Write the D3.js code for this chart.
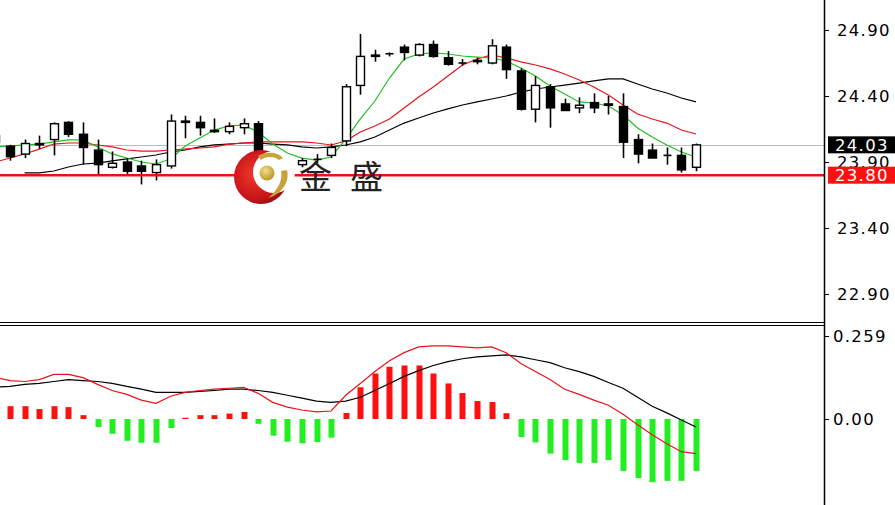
<!DOCTYPE html>
<html><head><meta charset="utf-8">
<script src="https://cdn.jsdelivr.net/npm/d3@7"></script>
<style>
html,body{margin:0;padding:0;background:#fff;}
svg{display:block;}
</style></head>
<body>
<svg id="chart" width="895" height="505"></svg>
<script>
// ---- data; first entry is the bar cut off at the left edge ----
const openP  = [24.05,24.02,23.96,24.03,24.07,24.20,24.11,23.99,23.86,23.90,23.87,23.82,23.87,24.20,24.20,24.14,24.13,24.16,24.19,23.94,23.87,23.88,23.92,23.95,24.06,24.48,24.70,24.72,24.77,24.71,24.79,24.69,24.65,24.66,24.65,24.77,24.59,24.30,24.47,24.34,24.31,24.35,24.34,24.32,24.07,23.99,23.95,23.95,23.86];
const highP  = [24.12,24.03,24.07,24.10,24.20,24.21,24.20,24.07,23.98,23.93,23.91,23.92,24.26,24.25,24.25,24.23,24.20,24.23,24.21,23.98,23.92,23.93,23.96,24.04,24.49,24.87,24.75,24.73,24.79,24.80,24.82,24.74,24.68,24.69,24.83,24.79,24.61,24.55,24.49,24.38,24.39,24.42,24.40,24.42,24.11,24.04,24.01,24.01,24.04];
const lowP   = [24.00,23.91,23.93,24.00,23.95,24.09,23.88,23.80,23.85,23.81,23.73,23.76,23.85,24.08,24.10,24.12,24.11,24.11,23.95,23.77,23.83,23.86,23.89,23.93,24.02,24.41,24.66,24.70,24.67,24.70,24.69,24.63,24.63,24.64,24.64,24.53,24.29,24.20,24.16,24.29,24.27,24.27,24.26,23.93,23.89,23.93,23.88,23.82,23.83];
const closeP = [24.10,23.94,24.04,24.04,24.19,24.11,24.01,23.88,23.89,23.83,23.83,23.88,24.21,24.21,24.16,24.13,24.17,24.19,23.98,23.85,23.89,23.91,23.92,24.01,24.47,24.70,24.71,24.72,24.73,24.79,24.70,24.64,24.65,24.67,24.78,24.60,24.30,24.48,24.31,24.29,24.33,24.31,24.33,24.05,23.96,23.93,23.95,23.84,24.03];

const maGreen = [24.014,24.021,24.029,24.036,24.052,24.067,24.067,24.014,23.961,23.930,23.900,23.885,23.923,24.021,24.082,24.142,24.173,24.180,24.127,24.036,23.968,23.930,23.915,23.938,24.074,24.226,24.362,24.536,24.680,24.718,24.726,24.718,24.703,24.695,24.688,24.665,24.612,24.552,24.476,24.415,24.355,24.347,24.324,24.256,24.158,24.089,24.029,23.976,23.938];
const maRed   = [23.900,23.930,23.961,23.998,24.036,24.044,24.044,24.029,24.014,23.991,23.983,23.983,23.991,23.998,24.006,24.014,24.036,24.044,24.052,24.052,24.052,24.052,24.044,24.029,24.059,24.127,24.173,24.226,24.309,24.392,24.468,24.552,24.635,24.680,24.711,24.688,24.658,24.635,24.605,24.567,24.521,24.468,24.408,24.332,24.264,24.226,24.195,24.142,24.112];
const maBlack = [null,null,23.817,23.817,23.832,23.862,23.885,23.892,23.908,23.923,23.938,23.953,23.976,23.991,24.014,24.029,24.036,24.044,24.044,24.036,24.029,24.014,24.006,24.014,24.029,24.052,24.089,24.142,24.195,24.233,24.271,24.302,24.332,24.355,24.377,24.400,24.430,24.453,24.468,24.483,24.498,24.514,24.529,24.529,24.491,24.453,24.423,24.385,24.355];

const macdHist = [0.040,0.040,0.040,0.031,0.040,0.037,0.012,-0.025,-0.046,-0.068,-0.074,-0.074,-0.028,0.004,0.012,0.012,0.017,0.022,-0.015,-0.052,-0.071,-0.076,-0.072,-0.058,0.019,0.099,0.142,0.163,0.167,0.167,0.142,0.111,0.081,0.056,0.053,0.018,-0.056,-0.073,-0.108,-0.128,-0.137,-0.137,-0.128,-0.162,-0.184,-0.197,-0.193,-0.193,-0.162];
const macdLine = [0.130,0.120,0.117,0.123,0.139,0.139,0.129,0.108,0.089,0.077,0.059,0.049,0.071,0.083,0.089,0.093,0.096,0.099,0.080,0.052,0.037,0.028,0.022,0.025,0.074,0.111,0.148,0.182,0.207,0.225,0.228,0.228,0.225,0.222,0.225,0.207,0.173,0.148,0.123,0.093,0.077,0.059,0.043,0.015,-0.018,-0.049,-0.077,-0.102,-0.108];
const signalLine = [0.099,0.102,0.108,0.111,0.117,0.123,0.120,0.117,0.111,0.102,0.093,0.083,0.083,0.083,0.086,0.089,0.093,0.093,0.089,0.083,0.074,0.065,0.056,0.052,0.056,0.068,0.089,0.111,0.133,0.151,0.167,0.179,0.188,0.194,0.197,0.200,0.194,0.185,0.176,0.160,0.148,0.133,0.114,0.096,0.068,0.040,0.019,-0.003,-0.025];

const priceTicks = [22.90, 23.40, 23.90, 24.40, 24.90];
const macdTicks = [0, 0.259];
const macdTickLabels = ["0.00", "0.259"];
const lastPrice = 24.03;
const levelPrice = 23.80;
const logoText = ["金", "盛"];

// ---- layout ----
const W = 895, H = 505;
const plotRight = 824;
const mainBottom = 322, subTop = 325;

const svg = d3.select("#chart");
const n = closeP.length;
const idx = d3.range(n);

// index 0 is the cut-off bar at the left edge; index 1 is the first full bar
const x = d3.scaleLinear().domain([1, n - 1]).range([10, 696]);
const y = d3.scaleLinear().domain([22.90, 24.90]).range([294, 30]);
const ym = d3.scaleLinear().domain([0, 0.259]).range([419, 336]);

const defs = svg.append("defs");
defs.append("clipPath").attr("id","clipMain").append("rect").attr("x",0).attr("y",0).attr("width",plotRight).attr("height",mainBottom);
defs.append("clipPath").attr("id","clipSub").append("rect").attr("x",0).attr("y",subTop).attr("width",plotRight).attr("height",H-subTop);
const rg = defs.append("radialGradient").attr("id","logoRed").attr("cx","40%").attr("cy","45%").attr("r","65%");
rg.append("stop").attr("offset","0%").attr("stop-color","#f03a2a");
rg.append("stop").attr("offset","70%").attr("stop-color","#c8141a");
rg.append("stop").attr("offset","100%").attr("stop-color","#8a0a10");
const gg = defs.append("radialGradient").attr("id","logoGold").attr("cx","40%").attr("cy","35%").attr("r","70%");
gg.append("stop").attr("offset","0%").attr("stop-color","#f4e08a");
gg.append("stop").attr("offset","100%").attr("stop-color","#b8901e");

// ---- main panel ----
const main = svg.append("g").attr("clip-path","url(#clipMain)");

main.append("line").attr("x1",0).attr("x2",plotRight)
  .attr("y1",Math.round(y(lastPrice))+0.5).attr("y2",Math.round(y(lastPrice))+0.5)
  .attr("stroke","#bdbdbd").attr("stroke-width",1);

const lineGen = (arr, sc) => d3.line().defined(i => arr[i] !== null).x(i => x(i)).y(i => sc(arr[i]));
main.append("path").attr("d", lineGen(maBlack, y)(idx)).attr("fill","none").attr("stroke","#000").attr("stroke-width",1.2);
main.append("path").attr("d", lineGen(maRed, y)(idx)).attr("fill","none").attr("stroke","#e8141a").attr("stroke-width",1.2);
main.append("path").attr("d", lineGen(maGreen, y)(idx)).attr("fill","none").attr("stroke","#22c022").attr("stroke-width",1.2);

const bw = 8;
const cg = main.append("g");
idx.forEach(i => {
  const cx = Math.round(x(i)) + 0.5;
  cg.append("line").attr("x1",cx).attr("x2",cx).attr("y1",y(highP[i])).attr("y2",y(lowP[i]))
    .attr("stroke","#000").attr("stroke-width",1.6);
  const o = openP[i], c = closeP[i];
  const top = y(Math.max(o,c)), bot = y(Math.min(o,c));
  if (Math.abs(o - c) < 0.005) {
    cg.append("line").attr("x1",cx-bw/2).attr("x2",cx+bw/2).attr("y1",top).attr("y2",top)
      .attr("stroke","#000").attr("stroke-width",1.6);
  } else {
    cg.append("rect").attr("x",cx-bw/2).attr("y",top).attr("width",bw).attr("height",Math.max(bot-top,1))
      .attr("fill", c > o ? "#fff" : "#000").attr("stroke","#000").attr("stroke-width",1.4);
  }
});

main.append("line").attr("x1",0).attr("x2",plotRight)
  .attr("y1",y(levelPrice)).attr("y2",y(levelPrice))
  .attr("stroke","#ee1111").attr("stroke-width",2.4);

// logo watermark
const logo = svg.append("g");
logo.append("circle").attr("cx",261).attr("cy",177).attr("r",27).attr("fill","url(#logoRed)");
logo.append("circle").attr("cx",274).attr("cy",172).attr("r",21).attr("fill","#fff");
logo.append("path").attr("d","M258,156 C266,151 278,152 283,158 L279,160 C274,156 266,156 261,160 Z").attr("fill","#c9a23a");
logo.append("path").attr("d","M287,170 C290,182 282,194 268,198 C278,190 283,180 281,171 Z").attr("fill","#c9a23a");
logo.append("circle").attr("cx",267).attr("cy",173).attr("r",7.5).attr("fill","url(#logoGold)");
logo.append("text").attr("x",299).attr("y",189).text(logoText[0])
  .attr("font-family","'Noto Sans CJK SC', sans-serif").attr("font-size",33).attr("fill","#222");
logo.append("text").attr("x",350).attr("y",189).text(logoText[1])
  .attr("font-family","'Noto Sans CJK SC', sans-serif").attr("font-size",33).attr("fill","#222");

// ---- sub panel (MACD) ----
const sub = svg.append("g").attr("clip-path","url(#clipSub)");
const hb = 6;
sub.selectAll("rect.hist").data(idx).enter().append("rect")
  .attr("x", i => Math.round(x(i)) - hb/2 + 0.5)
  .attr("y", i => macdHist[i] >= 0 ? ym(macdHist[i]) : ym(0))
  .attr("width", hb)
  .attr("height", i => Math.max(Math.abs(ym(macdHist[i]) - ym(0)), 1))
  .attr("fill", i => macdHist[i] >= 0 ? "#ff1010" : "#22ee22");
sub.append("path").attr("d", lineGen(signalLine, ym)(idx)).attr("fill","none").attr("stroke","#000").attr("stroke-width",1.2);
sub.append("path").attr("d", lineGen(macdLine, ym)(idx)).attr("fill","none").attr("stroke","#e8141a").attr("stroke-width",1.2);

// ---- frames ----
svg.append("line").attr("x1",0).attr("x2",plotRight+1).attr("y1",mainBottom+0.5).attr("y2",mainBottom+0.5).attr("stroke","#000").attr("stroke-width",1.2);
svg.append("line").attr("x1",0).attr("x2",plotRight+1).attr("y1",subTop+0.5).attr("y2",subTop+0.5).attr("stroke","#000").attr("stroke-width",1.2);
svg.append("line").attr("x1",plotRight+0.5).attr("x2",plotRight+0.5).attr("y1",0).attr("y2",H).attr("stroke","#000").attr("stroke-width",1.5);

// ---- axes ----
const fontFam = "'DejaVu Sans', Verdana, sans-serif";
const pAxis = d3.axisRight(y).tickValues(priceTicks).tickFormat(d3.format(".2f")).tickSize(4).tickPadding(8);
const gp = svg.append("g").attr("transform",`translate(${plotRight+1},0)`).call(pAxis);
gp.select(".domain").remove();
gp.selectAll("line").attr("stroke","#000");
gp.selectAll("text").attr("font-family",fontFam).attr("font-size",16.5).attr("letter-spacing","1.3px").attr("fill","#000");

const mAxis = d3.axisRight(ym).tickValues(macdTicks).tickFormat((d,i) => macdTickLabels[i]).tickSize(4).tickPadding(4);
const gm = svg.append("g").attr("transform",`translate(${plotRight+1},0)`).call(mAxis);
gm.select(".domain").remove();
gm.selectAll("line").attr("stroke","#000");
gm.selectAll("text").attr("font-family",fontFam).attr("font-size",16.5).attr("letter-spacing","1.3px").attr("fill","#000");

// price tags (drawn over the 23.90 tick label, as in the reference)
function tag(val, bg) {
  const cy = y(val);
  svg.append("rect").attr("x",828).attr("y",cy-8.5).attr("width",W-828).attr("height",17).attr("fill",bg);
  svg.append("text").attr("x",835).attr("y",cy).attr("dy","0.36em").text(val.toFixed(2))
    .attr("font-family",fontFam).attr("font-size",16.5).attr("letter-spacing","1.3px").attr("fill","#fff");
}
tag(lastPrice, "#000");
tag(levelPrice, "#ff1010");
</script>
</body></html>
